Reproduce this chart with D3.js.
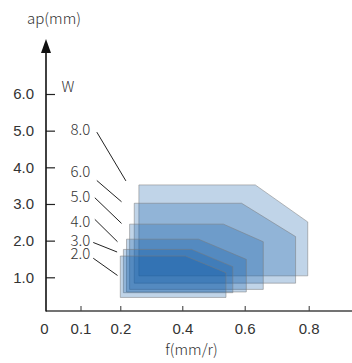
<!DOCTYPE html>
<html><head><meta charset="utf-8">
<script src="https://cdn.jsdelivr.net/npm/d3@7"></script>
<style>
html,body{margin:0;padding:0;background:#fff;}
svg{display:block;font-family:"Noto Sans CJK SC","Noto Sans",sans-serif;font-weight:300;}
</style></head>
<body><svg id="c" width="352" height="363"></svg>
<script>
// ---- data ----
const powerLabels = ["8.0","6.0","5.0","4.0","3.0","2.0"];
const fMin    = [0.26, 0.245, 0.23, 0.22, 0.21, 0.20];
const fCorner = [0.633, 0.59, 0.532, 0.452, 0.43, 0.41];
const fMax    = [0.797, 0.759, 0.658, 0.605, 0.562, 0.54];
const apMin   = [1.04, 0.84, 0.67, 0.60, 0.58, 0.45];
const apSlant = [2.51, 2.11, 1.97, 1.49, 1.29, 1.125];
const apMax   = [3.52, 3.02, 2.45, 2.04, 1.76, 1.58];
const xTicks = [0, 0.1, 0.2, 0.4, 0.6, 0.8];
const yTicks = [1, 2, 3, 4, 5, 6];
// annotation anchors (data units)
const labelAp   = [5.02, 3.87, 3.19, 2.51, 2.0, 1.64];
const leadF0  = [0.141, 0.141, 0.136, 0.136, 0.132, 0.132];
const leadAp0 = [4.96, 3.64, 3.17, 2.58, 1.95, 1.52];
const leadF1  = [0.218, 0.204, 0.204, 0.193, 0.192, 0.193];
const leadAp1 = [3.63, 3.06, 2.47, 1.97, 1.69, 1.05];

const svg = d3.select("#c");
const W = 352;
const FS = 15;
const x = d3.scaleLinear().domain([0,0.1,0.2,0.4,0.6,0.8]).range([46,80.5,120.3,182.3,244.7,308.7]);
const y = d3.scaleLinear().domain([1,6]).range([277.3,94]);
const axisY = 311;
const textCol = "#333";

// shapes
const g = svg.append("g");
powerLabels.forEach((lab,i)=>{
  const pts = [[fMin[i],apMin[i]],[fMin[i],apMax[i]],[fCorner[i],apMax[i]],[fMax[i],apSlant[i]],[fMax[i],apMin[i]]];
  g.append("path")
    .attr("d", d3.line().x(d=>x(d[0])).y(d=>y(d[1]))(pts)+"Z")
    .attr("fill","rgb(10,90,165)").attr("fill-opacity",0.26)
    .attr("stroke","#7a7a7a").attr("stroke-opacity",0.5).attr("stroke-width",1);
});

// x axis
const xa = svg.append("g").attr("transform",`translate(0,${axisY})`)
  .call(d3.axisBottom(x).tickValues(xTicks).tickSizeInner(-5).tickSizeOuter(0).tickPadding(12)
    .tickFormat(d=> d===0 ? "0" : d.toFixed(1)));
xa.select(".domain").remove();
xa.selectAll(".tick line").attr("stroke","#333").filter(d=>d===0).remove();
xa.selectAll(".tick text").attr("font-size",FS).attr("fill",textCol).attr("font-family",null)
  .attr("dx", d=> d===0 ? -2 : 0);
svg.append("line").attr("x1",x(0)).attr("x2",W).attr("y1",axisY).attr("y2",axisY)
  .attr("stroke","#444").attr("stroke-width",1.3);

// y axis
const ya = svg.append("g").attr("transform",`translate(${x(0)},0)`)
  .call(d3.axisLeft(y).tickValues(yTicks).tickSizeInner(-9).tickSizeOuter(0).tickPadding(12)
    .tickFormat(d=>d.toFixed(1)));
ya.select(".domain").remove();
ya.selectAll(".tick line").attr("stroke","#222").attr("stroke-width",1.2);
ya.selectAll(".tick text").attr("font-size",FS).attr("fill",textCol).attr("font-family",null);
svg.append("line").attr("x1",x(0)).attr("x2",x(0)).attr("y1",axisY+0.6).attr("y2",50)
  .attr("stroke","#111").attr("stroke-width",1.6);
svg.append("path").attr("d",`M${x(0)},39 L${x(0)-5},53 L${x(0)+5},53 Z`).attr("fill","#111");

// axis titles
svg.append("text").attr("x",54).attr("y",24).attr("text-anchor","middle")
  .attr("font-size",FS).attr("fill",textCol).text("ap(mm)");
svg.append("text").attr("x",191.5).attr("y",355).attr("text-anchor","middle")
  .attr("font-size",FS).attr("fill",textCol).text("f(mm/r)");

// annotations
svg.append("text").attr("x",x(0.045)).attr("y",y(6.2)).attr("dy","0.35em")
  .attr("font-size",FS).attr("fill",textCol).text("W");
powerLabels.forEach((lab,i)=>{
  svg.append("text").attr("x",x(0.071)).attr("y",y(labelAp[i])).attr("dy","0.35em")
    .attr("font-size",FS).attr("fill",textCol).text(lab);
  svg.append("line").attr("x1",x(leadF0[i])).attr("y1",y(leadAp0[i]))
    .attr("x2",x(leadF1[i])).attr("y2",y(leadAp1[i]))
    .attr("stroke","#222").attr("stroke-width",1);
});
</script></body></html>
